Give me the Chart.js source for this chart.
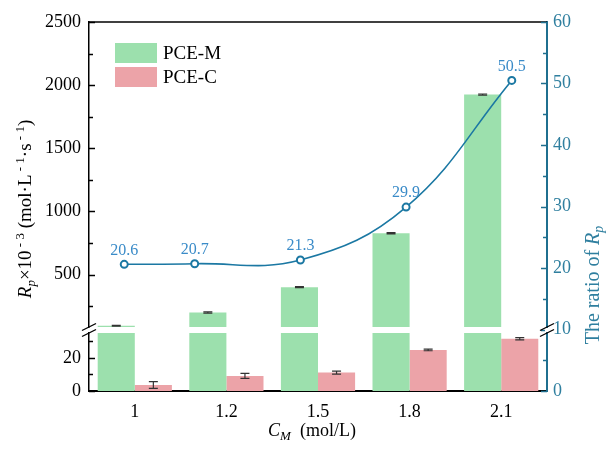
<!DOCTYPE html>
<html><head><meta charset="utf-8">
<script src="https://cdn.jsdelivr.net/npm/chart.js@4/dist/chart.umd.min.js"></script>
<style>html,body{margin:0;padding:0;background:#fff}#wrap{width:606px;height:450px}</style>
</head><body><div id="wrap"><canvas id="c" width="606" height="450"></canvas></div>
<script>
// ---- data ----
const categories = ['1', '1.2', '1.5', '1.8', '2.1'];
const concentrations = [1, 1.2, 1.5, 1.8, 2.1];
const pceM = [95, 199, 400, 827, 1925];
const pceMErr = [4, 5, 4, 5, 5];
const pceC = [3.6, 9.1, 11.1, 24.8, 31.5];
const pceCErr = [2.0, 1.5, 0.9, 0.5, 0.7];
const ratio = [20.6, 20.7, 21.3, 29.9, 50.5];
const lowTicks = [0, 10, 20, 30];
const lowLabels = [0, 20];
const highTicks = [250, 500, 750, 1000, 1250, 1500, 1750, 2000, 2250, 2500];
const highLabels = [500, 1000, 1500, 2000, 2500];
const rightTicks = [0, 5, 10, 15, 20, 25, 30, 35, 40, 45, 50, 55, 60];
const rightLabels = [0, 10, 20, 30, 40, 50, 60];
const LOW_MAX = 35, HIGH_MIN = 85, HIGH_MAX = 2500;

const SERIF = "'Liberation Serif', 'DejaVu Serif', serif";
const GREEN = '#9ce0ad', PINK = '#eca3a8';
const TEAL_AXIS = '#1f6f8f', TEAL_LINE = '#1b78a3', TEAL_TEXT = '#2f7f9f', LABEL_BLUE = '#3a8bc8';

// the ratio line lives on its own (hidden) linear x axis; keep bar grouping based on the category axis only
if (Chart.BarController && Chart.BarController.prototype._getAxisCount) {
  Chart.BarController.prototype._getAxisCount = function () { return 1; };
}

function drawRich(ctx, segs, cx, cy, rot, size, color) {
  ctx.save();
  ctx.translate(cx, cy);
  if (rot) ctx.rotate(rot);
  ctx.fillStyle = color;
  ctx.textBaseline = 'alphabetic';
  let total = 0;
  const fontOf = s => (s.it ? 'italic ' : '') + (s.sub || s.sup ? Math.round(size * 0.7) : size) + 'px ' + SERIF;
  for (const s of segs) { ctx.font = fontOf(s); total += ctx.measureText(s.t).width; }
  let x = -total / 2;
  const base = size * 0.33;
  for (const s of segs) {
    ctx.font = fontOf(s);
    let dy = 0;
    if (s.sub) dy = size * 0.22;
    if (s.sup) dy = -size * 0.38;
    ctx.fillText(s.t, x, base + dy);
    x += ctx.measureText(s.t).width;
  }
  ctx.restore();
}

const decor = {
  id: 'decor',
  afterDatasetsDraw(chart) {
    const ctx = chart.ctx;
    const drawErr = (meta, vals, errs, scale) => {
      ctx.save();
      ctx.strokeStyle = '#333';
      ctx.lineWidth = 1.2;
      meta.data.forEach((bar, i) => {
        const x = bar.x;
        const y1 = scale.getPixelForValue(vals[i] - errs[i]);
        const y2 = scale.getPixelForValue(vals[i] + errs[i]);
        ctx.beginPath();
        ctx.moveTo(x, y1); ctx.lineTo(x, y2);
        ctx.moveTo(x - 4.5, y1); ctx.lineTo(x + 4.5, y1);
        ctx.moveTo(x - 4.5, y2); ctx.lineTo(x + 4.5, y2);
        ctx.stroke();
      });
      ctx.restore();
    };
    drawErr(chart.getDatasetMeta(0), pceM, pceMErr, chart.scales.yHigh);
    drawErr(chart.getDatasetMeta(2), pceC, pceCErr, chart.scales.yLow);
  },
  afterDraw(chart) {
    const ctx = chart.ctx;
    const ca = chart.chartArea;
    const yL = chart.scales.yLow, yH = chart.scales.yHigh, yR = chart.scales.yR;
    ctx.save();
    // top frame
    ctx.strokeStyle = '#000'; ctx.lineWidth = 1.5;
    ctx.beginPath(); ctx.moveTo(ca.left, ca.top); ctx.lineTo(ca.right, ca.top); ctx.stroke();
    // inward ticks
    const tickDraw = (scale, vals, majors, x, dir, color) => {
      ctx.strokeStyle = color; ctx.lineWidth = 1.5;
      vals.forEach(v => {
        const y = Math.round(scale.getPixelForValue(v)) + 0.5;
        const len = majors.includes(v) ? 6 : 4;
        ctx.beginPath(); ctx.moveTo(x, y); ctx.lineTo(x + dir * len, y); ctx.stroke();
      });
    };
    tickDraw(yL, lowTicks, lowLabels, ca.left, 1, '#000');
    tickDraw(yH, highTicks, highLabels, ca.left, 1, '#000');
    tickDraw(yR, rightTicks, rightLabels, ca.right, -1, TEAL_AXIS);
    // axis break marks
    const yTop = yH.bottom, yBot = yL.top;
    ctx.fillStyle = '#fff';
    ctx.fillRect(ca.right - 2, yTop + 1, 4, yBot - yTop - 2);
    ctx.strokeStyle = '#000'; ctx.lineWidth = 1.3;
    [ca.left, ca.right].forEach(x => {
      [yTop, yBot].forEach(y => {
        ctx.beginPath(); ctx.moveTo(x - 7, y + 3.5); ctx.lineTo(x + 7, y - 3.5); ctx.stroke();
      });
    });
    // data labels for ratio
    const lm = chart.getDatasetMeta(3);
    ctx.fillStyle = LABEL_BLUE;
    ctx.font = '16px ' + SERIF;
    ctx.textAlign = 'center'; ctx.textBaseline = 'bottom';
    lm.data.forEach((pt, i) => ctx.fillText(ratio[i].toFixed(1), pt.x, pt.y - 6));
    // legend
    const legend = [{label: 'PCE-M', color: GREEN}, {label: 'PCE-C', color: PINK}];
    ctx.textAlign = 'left'; ctx.textBaseline = 'middle';
    ctx.font = '19px ' + SERIF;
    legend.forEach((it, i) => {
      const y = 43 + i * 24;
      ctx.fillStyle = it.color; ctx.fillRect(115, y, 42, 20);
      ctx.fillStyle = '#000'; ctx.fillText(it.label, 163, y + 11);
    });
    ctx.restore();
    // axis titles
    drawRich(ctx, [
      {t: 'R', it: true}, {t: 'p', it: true, sub: true}, {t: '×10'}, {t: ' - 3', sup: true},
      {t: ' (mol·L'}, {t: ' - 1', sup: true}, {t: '·s'}, {t: ' - 1', sup: true}, {t: ')'}
    ], 25, 209, -Math.PI / 2, 19, '#000');
    drawRich(ctx, [{t: 'C', it: true}, {t: 'M', it: true, sub: true}, {t: '  (mol/L)'}],
      (ca.left + ca.right) / 2 - 6, 430, 0, 18, '#000');
    drawRich(ctx, [{t: 'The ratio of '}, {t: 'R', it: true}, {t: 'p', it: true, sub: true}],
      592, 285, -Math.PI / 2, 20, TEAL_TEXT);
  }
};

const tickFont = {family: SERIF, size: 18};
new Chart(document.getElementById('c'), {
  data: {
    labels: categories,
    datasets: [
      {type: 'bar', label: 'PCE-M', data: pceM, yAxisID: 'yHigh', xAxisID: 'x', stack: 'M',
       base: HIGH_MIN, backgroundColor: GREEN, order: 1},
      {type: 'bar', label: 'PCE-M', data: pceM.map(v => Math.min(v, LOW_MAX)), yAxisID: 'yLow', xAxisID: 'x',
       stack: 'M', backgroundColor: GREEN, order: 1},
      {type: 'bar', label: 'PCE-C', data: pceC, yAxisID: 'yLow', xAxisID: 'x', stack: 'C',
       backgroundColor: PINK, order: 1},
      {type: 'line', label: 'ratio', data: concentrations.map((c, i) => ({x: c, y: ratio[i]})),
       xAxisID: 'x2', yAxisID: 'yR', borderColor: TEAL_LINE, borderWidth: 1.6, tension: 0.4,
       pointRadius: 3.5, pointBorderWidth: 2, pointBackgroundColor: '#fff', pointBorderColor: TEAL_LINE,
       order: 0}
    ]
  },
  options: {
    responsive: false, animation: false, devicePixelRatio: 1,
    layout: {padding: {top: 22, left: 0, right: 0, bottom: 0}},
    plugins: {legend: {display: false}, tooltip: {enabled: false}},
    datasets: {bar: {categoryPercentage: 0.81, barPercentage: 1}},
    scales: {
      x: {type: 'category', stacked: true, grid: {display: false, drawTicks: false},
          border: {color: '#000', width: 2},
          ticks: {font: tickFont, color: '#000', padding: 10},
          afterFit: s => { s.height = 59; }},
      x2: {type: 'linear', display: false, min: 0.9, max: 2.2},
      yLow: {type: 'linear', position: 'left', stack: 'left', stackWeight: 58, stacked: false,
             min: 0, max: LOW_MAX, grid: {display: false, drawTicks: false},
             border: {color: '#000', width: 1.5},
             afterBuildTicks: s => { s.ticks = lowTicks.map(v => ({value: v})); },
             ticks: {autoSkip: false, font: tickFont, color: '#000', padding: 8,
                     callback: v => lowLabels.includes(v) ? String(v) : ''},
             afterFit: s => { s.width = 89; }},
      yGap: {type: 'linear', position: 'left', stack: 'left', stackWeight: 6, display: false, min: 0, max: 1},
      yHigh: {type: 'linear', position: 'left', stack: 'left', stackWeight: 305, stacked: false,
              min: HIGH_MIN, max: HIGH_MAX, grid: {display: false, drawTicks: false},
              border: {color: '#000', width: 1.5},
              afterBuildTicks: s => { s.ticks = highTicks.map(v => ({value: v})); },
              ticks: {autoSkip: false, font: tickFont, color: '#000', padding: 8,
                      callback: v => highLabels.includes(v) ? String(v) : ''},
              afterFit: s => { s.width = 89; }},
      yR: {type: 'linear', position: 'right', min: 0, max: 60, grid: {display: false, drawTicks: false},
           border: {color: TEAL_AXIS, width: 2},
           afterBuildTicks: s => { s.ticks = rightTicks.map(v => ({value: v})); },
           ticks: {autoSkip: false, font: tickFont, color: TEAL_TEXT, padding: 6,
                   callback: v => rightLabels.includes(v) ? String(v) : ''},
           afterFit: s => { s.width = 59; }}
    }
  },
  plugins: [decor]
});
</script>
</body></html>
